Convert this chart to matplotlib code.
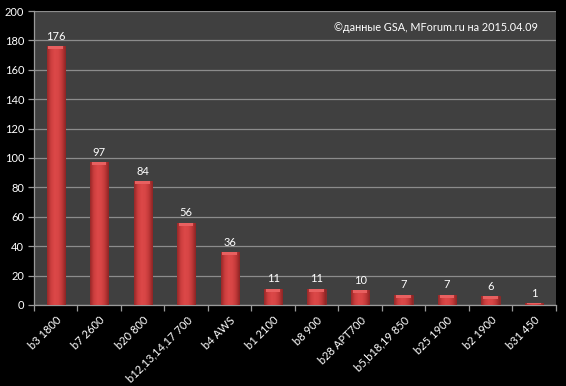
import numpy as np
import matplotlib
matplotlib.use("Agg")
import matplotlib.pyplot as plt
from matplotlib.colors import LinearSegmentedColormap

plt.rcParams['font.family'] = ['Lato', 'DejaVu Sans']

bands = ["b3 1800", "b7 2600", "b20 800", "b12,13,14,17 700", "b4 AWS",
         "b1 2100", "b8 900", "b28 APT700", "b5,b18,19 850", "b25 1900",
         "b2 1900", "b31 450"]
counts = [176, 97, 84, 56, 36, 11, 11, 10, 7, 7, 6, 1]
y_ticks = list(range(0, 201, 20))

fig = plt.figure(figsize=(5.66, 3.86), dpi=100, facecolor="black")
ax = fig.add_axes([0.060, 0.210, 0.922, 0.7615])
ax.set_facecolor("#404040")

x = np.arange(len(bands))
bars = ax.bar(x, counts, width=0.42, color="#c83a3a", edgecolor="#8a2424",
              linewidth=0.5, zorder=3)

# horizontal gradient inside each bar
cmap = LinearSegmentedColormap.from_list(
    "bar", ["#962828", "#cc3e3e", "#dc4848", "#d84646", "#c03838", "#8c2424"])
grad = np.linspace(0, 1, 64).reshape(1, -1)
for b in bars:
    x0, w, h = b.get_x(), b.get_width(), b.get_height()
    im = ax.imshow(grad, cmap=cmap, aspect="auto", extent=[x0, x0 + w, 0, h],
                   zorder=3.5, interpolation="bicubic")
    im.set_clip_path(b)
    cap = min(2.0, h * 0.3)
    ax.bar(b.get_x() + w / 2, cap, width=w * 0.8, bottom=h - cap,
           color="#e86060", zorder=4, linewidth=0)

for xi, v in zip(x, counts):
    ax.text(xi, v + 3, str(v), ha="center", va="bottom", color="white",
            fontsize=8, zorder=5)

ax.set_xlim(-0.5, len(bands) - 0.5)
ax.set_ylim(0, 200)
ax.set_yticks(y_ticks)
ax.set_yticklabels([str(t) for t in y_ticks], color="white", fontsize=8)
ax.yaxis.grid(True, color="#8c8c8c", linewidth=0.9, zorder=0)
ax.set_axisbelow(True)

ax.set_xticks(x)
ax.set_xticklabels(bands, rotation=45, ha="right", rotation_mode="anchor",
                   color="white", fontsize=8)
ax.set_xticks(np.arange(len(bands) + 1) - 0.5, minor=True)
ax.tick_params(axis="x", which="major", length=0, pad=7)
ax.tick_params(axis="x", which="minor", length=4, color="#9a9a9a", width=0.9)
ax.tick_params(axis="y", length=4, color="#9a9a9a", width=0.9, pad=3)

for side in ["top", "right"]:
    ax.spines[side].set_visible(False)
for side in ["left", "bottom"]:
    ax.spines[side].set_color("#9a9a9a")
    ax.spines[side].set_linewidth(0.9)

ax.text(0.965, 0.945, "©данные GSA, MForum.ru на 2015.04.09",
        transform=ax.transAxes, ha="right", va="center", color="white",
        fontsize=7.8, zorder=6)

fig.savefig("out.png", dpi=100, facecolor="black")
